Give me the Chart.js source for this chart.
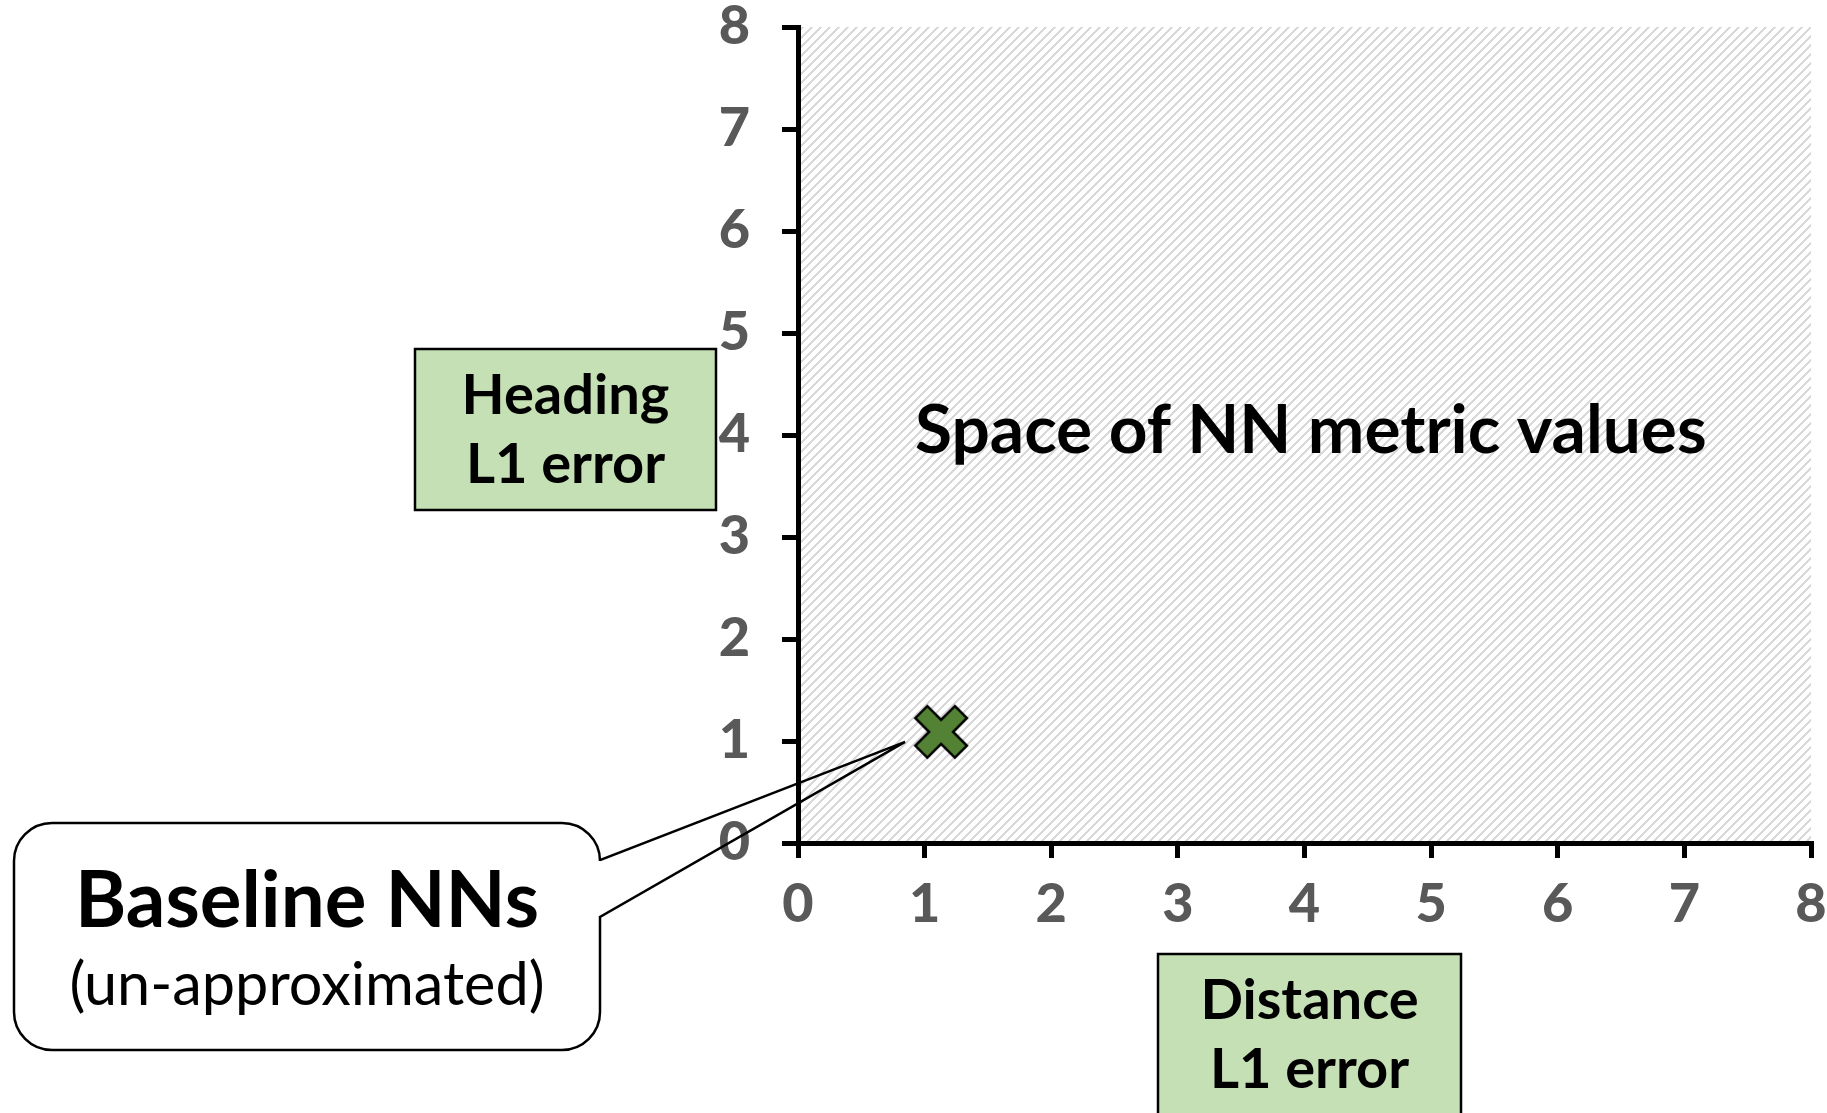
<!DOCTYPE html>
<html>
<head>
<meta charset="utf-8">
<title>Space of NN metric values</title>
<script src="https://cdn.jsdelivr.net/npm/chart.js@4.4.1/dist/chart.umd.min.js"></script>
<style>
  html, body { margin: 0; padding: 0; background: #fff; }
  #wrap { width: 1827px; height: 1113px; }
</style>
</head>
<body>
<div id="wrap"><canvas id="chart" width="1827" height="1113"></canvas></div>
<script>
// data
const xValues = [1.13];
const yValues = [1.09];
const seriesLabel = "Baseline NNs";
const xTicks = [0, 1, 2, 3, 4, 5, 6, 7, 8];
const yTicks = [0, 1, 2, 3, 4, 5, 6, 7, 8];
const xTitle = ["Distance", "L1 error"];
const yTitle = ["Heading", "L1 error"];
const spaceLabel = "Space of NN metric values";
const calloutLines = ["Baseline NNs", "(un-approximated)"];

const GREEN = "#548235";
const BOX_FILL = "#c5e0b4";
const TICK_GRAY = "#595959";
const FONT = "Lato, 'Open Sans', sans-serif";

// thick X marker used as the point style
function makeCrossMarker() {
  const c = document.createElement("canvas");
  c.width = 60;
  c.height = 60;
  const g = c.getContext("2d");
  const a = 28, t = 8.5;
  g.translate(30, 30);
  g.rotate(Math.PI / 4);
  g.beginPath();
  g.moveTo(-t, -a); g.lineTo(t, -a); g.lineTo(t, -t); g.lineTo(a, -t);
  g.lineTo(a, t); g.lineTo(t, t); g.lineTo(t, a); g.lineTo(-t, a);
  g.lineTo(-t, t); g.lineTo(-a, t); g.lineTo(-a, -t); g.lineTo(-t, -t);
  g.closePath();
  g.fillStyle = GREEN;
  g.fill();
  g.lineWidth = 2.5;
  g.strokeStyle = "#000";
  g.lineJoin = "miter";
  g.stroke();
  return c;
}

// crisp "/" stripes, one tile of n x n pixels
function makeHatch(ctx) {
  const n = 9;
  const c = document.createElement("canvas");
  c.width = n;
  c.height = n;
  const g = c.getContext("2d");
  g.fillStyle = "#fff";
  g.fillRect(0, 0, n, n);
  g.fillStyle = "#d9d9d9";
  for (let y = 0; y < n; y++) {
    for (let x = 0; x < n; x++) {
      if ((x + y) % n < 3) g.fillRect(x, y, 1, 1);
    }
  }
  return ctx.createPattern(c, "repeat");
}

// pick a font size so that text fills the given width
function fitFont(ctx, text, weight, width) {
  ctx.font = weight + " 100px " + FONT;
  const size = 100 * width / ctx.measureText(text).width;
  ctx.font = weight + " " + size.toFixed(1) + "px " + FONT;
}

const hatchPlugin = {
  id: "hatch",
  beforeDraw(chart) {
    const { ctx, chartArea } = chart;
    ctx.save();
    ctx.fillStyle = makeHatch(ctx);
    ctx.fillRect(chartArea.left, chartArea.top,
      chartArea.right - chartArea.left, chartArea.bottom - chartArea.top);
    ctx.restore();
  }
};

function greenBox(ctx, x, y, w, h, lines) {
  ctx.fillStyle = BOX_FILL;
  ctx.fillRect(x, y, w, h);
  ctx.lineWidth = 2.5;
  ctx.strokeStyle = "#000";
  ctx.strokeRect(x, y, w, h);
  ctx.fillStyle = "#000";
  ctx.font = "bold 56px " + FONT;
  ctx.textAlign = "center";
  ctx.textBaseline = "alphabetic";
  lines.forEach((t, i) => ctx.fillText(t, x + w / 2, y + 65 + i * 69));
}

const notesPlugin = {
  id: "notes",
  afterDraw(chart) {
    const { ctx } = chart;
    const xs = chart.scales.x, ys = chart.scales.y;
    ctx.save();
    ctx.textAlign = "center";
    ctx.textBaseline = "alphabetic";

    // label inside the plot
    ctx.fillStyle = "#000";
    fitFont(ctx, spaceLabel, "bold", 792);
    ctx.fillText(spaceLabel, xs.getPixelForValue(4.05), ys.getPixelForValue(3.82));

    // axis title boxes
    greenBox(ctx, 415, 349, 301, 161, yTitle);
    greenBox(ctx, 1158, 954, 303, 200, xTitle);

    // callout pointing at the baseline point
    const px = xs.getPixelForValue(xValues[0]) - 36;
    const py = ys.getPixelForValue(yValues[0]) + 10;
    const L = 14, T = 823, R = 600, B = 1050, r = 38;

    ctx.beginPath();
    ctx.moveTo(L + r, T);
    ctx.lineTo(R - r, T);
    ctx.arcTo(R, T, R, T + r, r);
    ctx.lineTo(R, B - r);
    ctx.arcTo(R, B, R - r, B, r);
    ctx.lineTo(L + r, B);
    ctx.arcTo(L, B, L, B - r, r);
    ctx.lineTo(L, T + r);
    ctx.arcTo(L, T, L + r, T, r);
    ctx.closePath();
    ctx.fillStyle = "#fff";
    ctx.fill();

    ctx.beginPath();
    ctx.moveTo(L + r, T);
    ctx.lineTo(R - r, T);
    ctx.arcTo(R, T, R, T + r, r);
    ctx.lineTo(R, 860);
    ctx.lineTo(px, py);
    ctx.lineTo(R, 917);
    ctx.lineTo(R, B - r);
    ctx.arcTo(R, B, R - r, B, r);
    ctx.lineTo(L + r, B);
    ctx.arcTo(L, B, L, B - r, r);
    ctx.lineTo(L, T + r);
    ctx.arcTo(L, T, L + r, T, r);
    ctx.closePath();
    ctx.lineWidth = 2.5;
    ctx.strokeStyle = "#000";
    ctx.lineJoin = "miter";
    ctx.stroke();

    ctx.fillStyle = "#000";
    fitFont(ctx, calloutLines[0], "bold", 464);
    ctx.fillText(calloutLines[0], (L + R) / 2, 927);
    fitFont(ctx, calloutLines[1], "normal", 475);
    ctx.fillText(calloutLines[1], (L + R) / 2, 1005);
    ctx.restore();
  }
};

const tickFont = { family: FONT, size: 54, weight: "900", lineHeight: 1 };

new Chart(document.getElementById("chart"), {
  type: "scatter",
  data: {
    datasets: [{
      label: seriesLabel,
      data: xValues.map((x, i) => ({ x, y: yValues[i] })),
      pointStyle: makeCrossMarker(),
      pointRadius: 26,
      pointHoverRadius: 26
    }]
  },
  options: {
    responsive: false,
    animation: false,
    events: [],
    layout: { autoPadding: false, padding: { left: 0, top: 27, right: 0, bottom: 0 } },
    plugins: {
      legend: { display: false },
      tooltip: { enabled: false }
    },
    scales: {
      x: {
        type: "linear",
        min: xTicks[0],
        max: xTicks[xTicks.length - 1],
        afterBuildTicks: (s) => { s.ticks = xTicks.map(v => ({ value: v })); },
        afterFit: (s) => { s.height = 270; s.paddingLeft = 14; s.paddingRight = 16; },
        grid: { drawOnChartArea: false, drawTicks: true, tickLength: 15, lineWidth: 5, color: "#000" },
        border: { display: true, width: 5, color: "#000" },
        ticks: { font: tickFont, color: TICK_GRAY, padding: 20, maxRotation: 0 }
      },
      y: {
        type: "linear",
        min: yTicks[0],
        max: yTicks[yTicks.length - 1],
        afterBuildTicks: (s) => { s.ticks = yTicks.map(v => ({ value: v })); },
        afterFit: (s) => { s.width = 798; s.paddingTop = 25; s.paddingBottom = 25; },
        grid: { drawOnChartArea: false, drawTicks: true, tickLength: 16, lineWidth: 5, color: "#000" },
        border: { display: true, width: 5, color: "#000" },
        ticks: { font: tickFont, color: TICK_GRAY, padding: 32 }
      }
    }
  },
  plugins: [hatchPlugin, notesPlugin]
});
</script>
</body>
</html>
